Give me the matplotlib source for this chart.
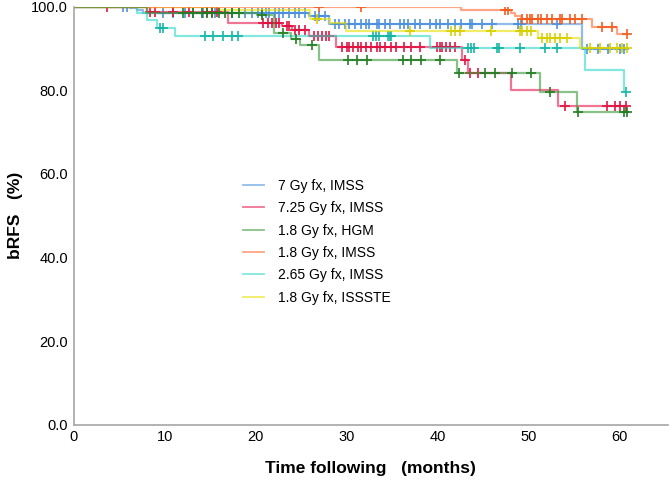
import numpy as np
import matplotlib
matplotlib.use("Agg")
import matplotlib.pyplot as plt

plt.rcParams['font.family'] = ['Liberation Sans', 'DejaVu Sans']

labels = ["7 Gy fx, IMSS", "7.25 Gy fx, IMSS", "1.8 Gy fx, HGM",
          "1.8 Gy fx, IMSS", "2.65 Gy fx, IMSS", "1.8 Gy fx, ISSSTE"]

# --- 7 Gy fx, IMSS (blue)
blue_t = [0, 6.2, 7.0, 7.6, 25.9, 28.1, 55.9]
blue_s = [100, 99.6, 99.2, 98.6, 97.7, 95.9, 90.0]
blue_end = 60.6
blue_c = [5.4, 5.9, 9.8, 10.9, 12.2, 13.1, 14.2, 15.5, 17.4, 18.8, 19.6, 20.2, 20.7, 21.1,
          21.5, 22.1, 22.6, 23.0, 23.7, 24.3, 24.8, 25.4, 26.5, 27.0, 27.6, 28.7, 29.2,
          29.8, 30.3, 30.9, 31.6, 32.1, 32.5, 33.3, 33.6, 34.2, 34.7, 35.8, 36.3, 36.7,
          37.5, 38.0, 39.1, 39.8, 40.2, 41.1, 41.9, 42.6, 43.5, 43.8, 44.9, 46.0, 48.8,
          49.2, 53.1, 56.4, 57.6, 58.7, 60.0, 60.5]

# --- 7.25 Gy fx, IMSS (red)
red_t = [0, 8.0, 16.9, 22.9, 24.0, 25.9, 28.8, 42.7, 43.3, 48.1, 53.2]
red_s = [100, 98.8, 96.2, 95.3, 94.5, 93.1, 90.3, 87.3, 84.1, 80.0, 76.2]
red_end = 60.7
red_c = [3.7, 8.4, 8.9, 10.9, 12.7, 14.6, 15.2, 15.7, 20.8, 21.3, 21.8, 22.2, 22.6, 23.4,
         23.7, 24.3, 24.8, 25.4, 26.4, 26.8, 27.3, 27.7, 28.1, 29.5, 30.0, 30.3, 30.7,
         31.2, 31.6, 32.1, 32.7, 33.3, 33.7, 34.2, 34.9, 35.4, 36.3, 37.1, 38.0, 39.9,
         40.2, 40.5, 40.9, 41.3, 41.9, 43.0, 43.5, 44.4, 54.0, 58.6, 59.5, 60.0, 60.7]

# --- 1.8 Gy fx, HGM (green)
green_t = [0, 8.1, 20.1, 22.0, 23.9, 24.9, 27.0, 42.1, 51.2, 55.3]
green_s = [100, 98.6, 98.0, 93.8, 92.3, 90.9, 87.2, 84.1, 79.7, 74.7]
green_end = 60.8
green_c = [12.0, 13.1, 14.1, 14.6, 15.2, 16.0, 16.6, 17.4, 18.2, 20.7, 23.0, 24.4, 26.2,
           30.1, 31.1, 32.2, 36.2, 37.1, 38.2, 40.2, 42.3, 45.2, 46.3, 48.2, 50.3, 52.3,
           55.4, 60.5, 60.8]

# --- 1.8 Gy fx, IMSS (orange)
orange_t = [0, 42.6, 48.0, 48.5, 49.1, 56.9, 59.7]
orange_s = [100, 99.3, 98.5, 97.8, 97.1, 95.2, 93.5]
orange_end = 60.8
orange_c = [27.0, 31.6, 47.4, 47.7, 49.3, 49.8, 50.1, 50.4, 51.0, 51.4, 52.0, 52.6, 53.4,
            53.7, 54.5, 55.1, 55.8, 58.0, 59.1, 60.8]

# --- 2.65 Gy fx, IMSS (cyan)
cyan_t = [0, 7.0, 8.1, 9.1, 11.1, 39.1, 56.2, 60.5]
cyan_s = [100, 98.6, 96.9, 95.0, 93.1, 90.1, 84.8, 79.5]
cyan_end = 60.7
cyan_c = [9.5, 9.8, 14.4, 15.3, 16.4, 17.4, 18.0, 32.9, 33.2, 33.5, 34.5, 34.7, 34.9,
          43.3, 43.6, 44.0, 46.5, 46.7, 49.0, 51.8, 53.1, 60.7]

# --- 1.8 Gy fx, ISSSTE (yellow)
yellow_t = [0, 16.0, 26.0, 28.2, 29.9, 51.0, 55.6]
yellow_s = [100, 99.3, 97.0, 96.0, 94.1, 92.5, 90.1]
yellow_end = 60.8
yellow_c = [26.7, 36.9, 41.5, 41.9, 42.4, 45.9, 49.0, 49.3, 49.8, 50.3, 51.5, 52.0, 52.3,
            52.9, 53.4, 54.2, 56.7, 57.8, 58.9, 59.7, 60.2, 60.8]

series = [
    (blue_t, blue_s, blue_end, blue_c, '#4a8fe0', '#4a8fe0'),
    (red_t, red_s, red_end, red_c, '#e5194f', '#e0103f'),
    (green_t, green_s, green_end, green_c, '#3a9a3a', '#207a20'),
    (orange_t, orange_s, orange_end, orange_c, '#ff6a33', '#f25a1a'),
    (cyan_t, cyan_s, cyan_end, cyan_c, '#2fd8c8', '#12b5a3'),
    (yellow_t, yellow_s, yellow_end, yellow_c, '#e8e000', '#d8cf00'),
]

fig = plt.figure(figsize=(6.7, 4.8), dpi=100)
ax = fig.add_axes([0.110, 0.115, 0.887, 0.871])

order = [0, 1, 4, 5, 3, 2]
handles = [None] * 6
for i in order:
    t, s, end, c, col, mcol = series[i]
    t = np.asarray(t, float)
    s = np.asarray(s, float)
    xs = np.r_[t, end]
    ys = np.r_[s, s[-1]]
    ln, = ax.step(xs, ys, where='post', color=col, alpha=0.6, lw=1.6, label=labels[i])
    handles[i] = ln
    ct = np.asarray(c, float)
    idx = np.searchsorted(t, ct, side='right') - 1
    ax.plot(ct, s[idx], '+', color=mcol, ms=7, mew=1.3, alpha=0.9, linestyle='none')

ax.set_xlim(0, 65.3)
ax.set_ylim(0, 100)
ax.set_xticks([0, 10, 20, 30, 40, 50, 60])
ax.set_yticks([0, 20, 40, 60, 80, 100])
ax.set_yticklabels(['%.1f' % v for v in [0, 20, 40, 60, 80, 100]])
ax.tick_params(length=0, labelsize=10.5, colors='black', pad=4)
for sp in ['top', 'right']:
    ax.spines[sp].set_visible(False)
for sp in ['left', 'bottom']:
    ax.spines[sp].set_color('#a6a6a6')
    ax.spines[sp].set_linewidth(1.2)

ax.set_xlabel('Time following   (months)', fontsize=12.5, fontweight='bold', labelpad=12)
ax.set_ylabel('bRFS   (%)', fontsize=12.5, fontweight='bold', labelpad=6)

leg = ax.legend(handles=handles, labels=labels, loc='upper left',
                bbox_to_anchor=(0.285, 0.588), frameon=False, fontsize=10,
                handlelength=1.5, handletextpad=1.0, labelspacing=0.6,
                borderaxespad=0, borderpad=0)
for h in leg.get_lines():
    h.set_linewidth(1.3)

fig.savefig('out.png', dpi=100)
